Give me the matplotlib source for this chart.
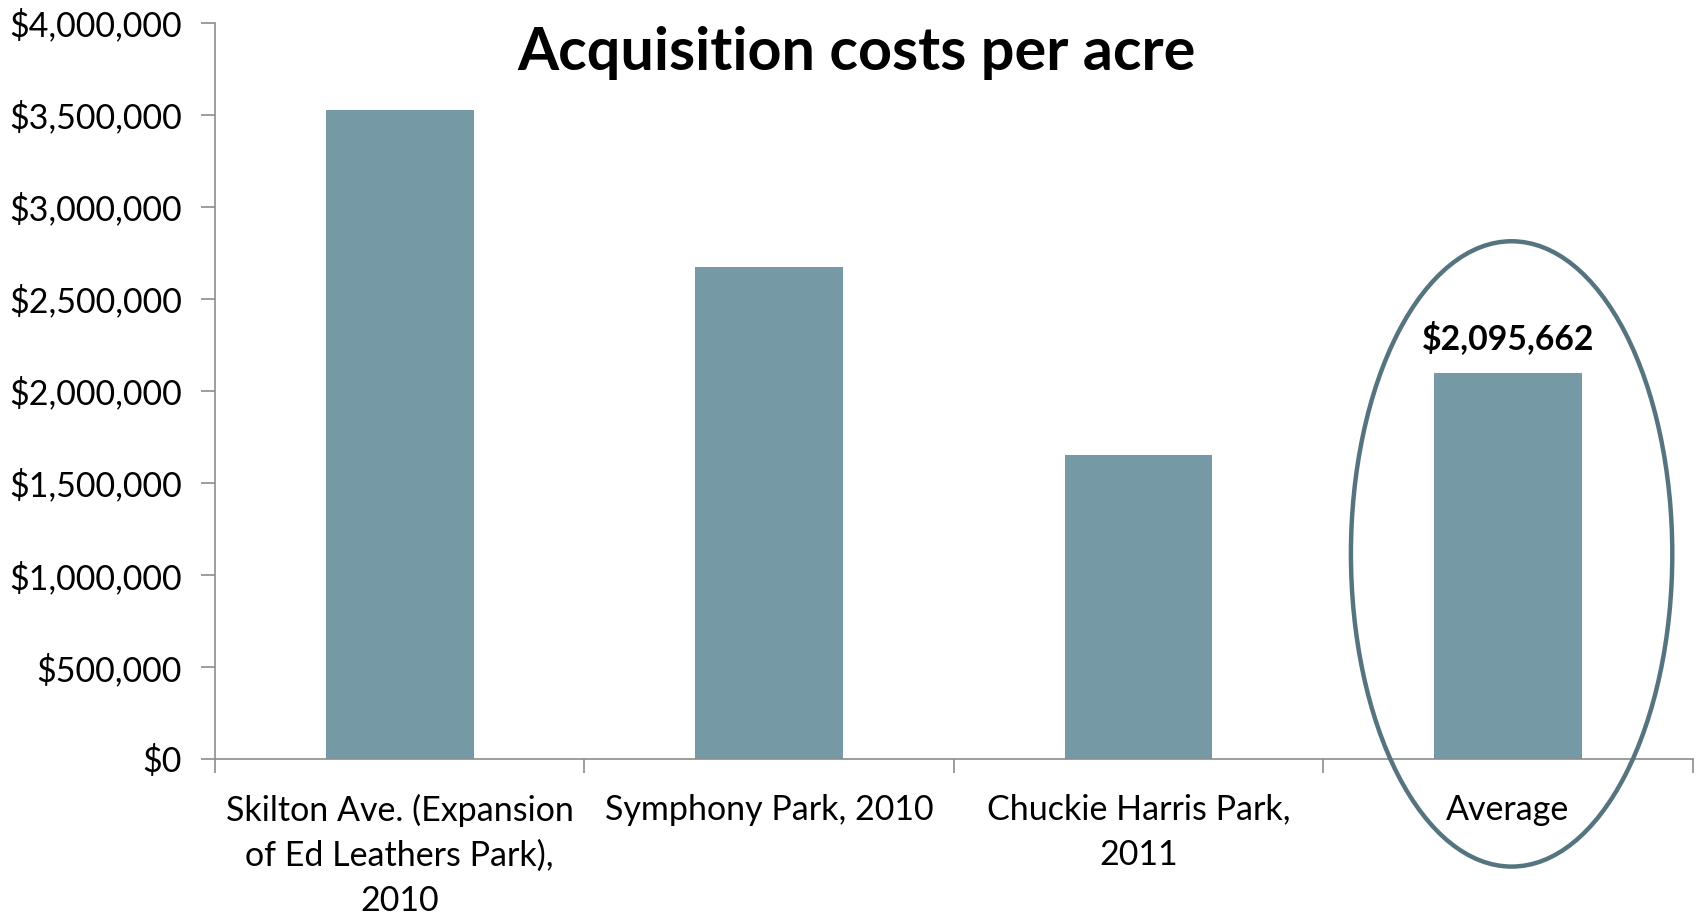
import matplotlib
matplotlib.use("Agg")
import matplotlib.pyplot as plt
from matplotlib.patches import Ellipse
from matplotlib.ticker import FuncFormatter, FixedLocator

categories = ["Skilton Ave. (Expansion\nof Ed Leathers Park),\n2010",
              "Symphony Park, 2010",
              "Chuckie Harris Park,\n2011",
              "Average"]
values = [3523000, 2673000, 1650000, 2095662]
label_text = "$2,095,662"
title = "Acquisition costs per acre"

plt.rcParams['font.family'] = ['Lato', 'DejaVu Sans']

fig = plt.figure(figsize=(16.96, 9.14), dpi=100)
ax = fig.add_axes([0.1268, 0.1696, 0.8712, 0.8056])

bar_color = "#7699A6"
x = list(range(len(categories)))
ax.bar(x, values, width=0.4, color=bar_color, zorder=2)

ax.set_xlim(-0.5, len(categories) - 0.5)
ax.set_ylim(0, 4000000)
ax.yaxis.set_major_locator(FixedLocator([i * 500000 for i in range(9)]))
ax.yaxis.set_major_formatter(FuncFormatter(lambda v, p: f"${v:,.0f}"))

ax.set_xticks(x)
ax.set_xticklabels(categories, fontsize=24.5, linespacing=1.5)
ax.set_xticks([i - 0.5 for i in range(len(categories) + 1)], minor=True)
ax.tick_params(axis='x', which='major', length=0, pad=25)
ax.tick_params(axis='x', which='minor', length=10, color="#8C8C8C", width=1.2)
ax.tick_params(axis='y', length=10, color="#8C8C8C", width=1.2, labelsize=24.5, pad=14)

for s in ["top", "right"]:
    ax.spines[s].set_visible(False)
for s in ["left", "bottom"]:
    ax.spines[s].set_color("#8C8C8C")
    ax.spines[s].set_linewidth(1.2)

ax.annotate(label_text, (x[-1], values[-1]), xytext=(0, 13), textcoords="offset points",
            ha="center", va="bottom", fontsize=24.3, fontweight="bold")

ell = Ellipse((3.01, 1114000), 0.87, 3397000, fill=False, edgecolor="#557480",
              linewidth=3.2, clip_on=False, zorder=3)
ax.add_patch(ell)

fig.text(0.505, 0.942, title, ha="center", va="center", fontsize=42.7, fontweight="bold")

fig.savefig("out.png", dpi=100)
